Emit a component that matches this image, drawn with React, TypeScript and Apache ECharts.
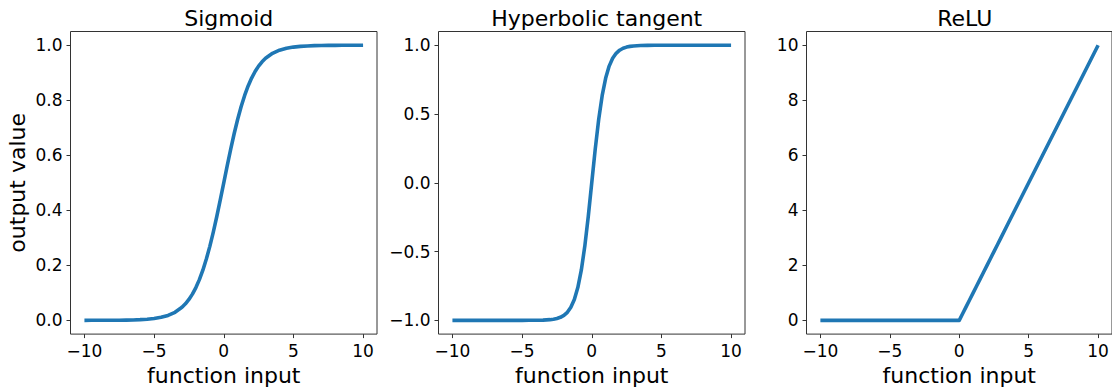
import React, { useEffect, useRef } from "react";
import * as echarts from "echarts";

const panelTitles = ["Sigmoid", "Hyperbolic tangent", "ReLU"];
const xLabel = "function input";
const yLabel = "output value";

const functionInput = [
  -10, -9.5, -9, -8.5, -8, -7.5, -7, -6.5, -6, -5.5, -5, -4.5, -4, -3.5,
  -3, -2.75, -2.5, -2.25, -2, -1.75, -1.5, -1.25, -1, -0.75, -0.5, -0.25,
  0, 0.25, 0.5, 0.75, 1, 1.25, 1.5, 1.75, 2, 2.25, 2.5, 2.75, 3,
  3.5, 4, 4.5, 5, 5.5, 6, 6.5, 7, 7.5, 8, 8.5, 9, 9.5, 10,
];

const sigmoidValues = [
  0.0, 0.0001, 0.0001, 0.0002, 0.0003, 0.0006, 0.0009, 0.0015, 0.0025, 0.0041, 0.0067, 0.011, 0.018, 0.0293,
  0.0474, 0.0601, 0.0759, 0.0953, 0.1192, 0.148, 0.1824, 0.2227, 0.2689, 0.3208, 0.3775, 0.4378,
  0.5, 0.5622, 0.6225, 0.6792, 0.7311, 0.7773, 0.8176, 0.852, 0.8808, 0.9047, 0.9241, 0.9399, 0.9526,
  0.9707, 0.982, 0.989, 0.9933, 0.9959, 0.9975, 0.9985, 0.9991, 0.9994, 0.9997, 0.9998, 0.9999, 0.9999, 1.0,
];

const tanhValues = [
  -1.0, -1.0, -1.0, -1.0, -1.0, -1.0, -1.0, -1.0, -1.0, -1.0, -0.9999, -0.9998, -0.9993, -0.9982,
  -0.9951, -0.9918, -0.9866, -0.978, -0.964, -0.9414, -0.9051, -0.8483, -0.7616, -0.6351, -0.4621, -0.2449,
  0.0, 0.2449, 0.4621, 0.6351, 0.7616, 0.8483, 0.9051, 0.9414, 0.964, 0.978, 0.9866, 0.9918, 0.9951,
  0.9982, 0.9993, 0.9998, 0.9999, 1.0, 1.0, 1.0, 1.0, 1.0, 1.0, 1.0, 1.0, 1.0, 1.0,
];

const reluValues = [
  0, 0, 0, 0, 0, 0, 0, 0, 0, 0, 0, 0, 0, 0,
  0, 0, 0, 0, 0, 0, 0, 0, 0, 0, 0, 0,
  0, 0.25, 0.5, 0.75, 1, 1.25, 1.5, 1.75, 2, 2.25, 2.5, 2.75, 3,
  3.5, 4, 4.5, 5, 5.5, 6, 6.5, 7, 7.5, 8, 8.5, 9, 9.5, 10,
];

const xTicks = [-10, -5, 0, 5, 10];
const sigmoidTicks = [0, 0.2, 0.4, 0.6, 0.8, 1.0];
const tanhTicks = [-1, -0.5, 0, 0.5, 1];
const reluTicks = [0, 2, 4, 6, 8, 10];

const seriesValues = [sigmoidValues, tanhValues, reluValues];
const yTickSets = [sigmoidTicks, tanhTicks, reluTicks];
const yRanges = [
  [-0.05, 1.05],
  [-1.1, 1.1],
  [-0.5, 10.5],
];
const yDecimals = [1, 1, 0];

const FONT = "DejaVu Sans";
const LINE_COLOR = "#1f77b4";
const AXIS_COLOR = "#333333";

const fmt = (v: number, d: number) => {
  const s = Math.abs(v).toFixed(d);
  return v < 0 ? "\u2212" + s : s;
};

export default function App() {
  const ref = useRef<HTMLDivElement>(null);

  useEffect(() => {
    if (!ref.current) return;
    const chart = echarts.init(ref.current, undefined, { renderer: "svg" });

    const lefts = [70.5, 438.5, 806.5];
    const gridW = 306.5;
    const gridTop = 31.5;
    const gridH = 303.8;

    const grids = lefts.map((l) => ({
      left: l,
      top: gridTop,
      width: gridW,
      height: gridH,
      show: true,
      borderColor: AXIS_COLOR,
      borderWidth: 1,
      backgroundColor: "transparent",
      containLabel: false,
    }));

    const xAxes = lefts.map((_, i) => ({
      type: "value",
      gridIndex: i,
      position: "bottom",
      min: -11,
      max: 11,
      name: xLabel,
      nameLocation: "middle",
      nameGap: 27,
      nameTextStyle: { fontFamily: FONT, fontSize: 22, color: "#000" },
      axisLine: { show: false, onZero: false },
      axisTick: {
        show: true,
        length: 4,
        inside: false,
        customValues: xTicks,
        lineStyle: { color: AXIS_COLOR, width: 1 },
      },
      axisLabel: {
        show: true,
        customValues: xTicks,
        margin: 8,
        fontFamily: FONT,
        fontSize: 17,
        color: "#000",
        formatter: (v: number) => fmt(v, 0),
      },
      splitLine: { show: false },
    }));

    const yAxes = lefts.map((_, i) => ({
      type: "value",
      gridIndex: i,
      position: "left",
      min: yRanges[i][0],
      max: yRanges[i][1],
      name: i === 0 ? yLabel : "",
      nameLocation: "middle",
      nameRotate: 90,
      nameGap: 42,
      nameTextStyle: { fontFamily: FONT, fontSize: 22, color: "#000" },
      axisLine: { show: false, onZero: false },
      axisTick: {
        show: true,
        length: 4,
        inside: false,
        customValues: yTickSets[i],
        lineStyle: { color: AXIS_COLOR, width: 1 },
      },
      axisLabel: {
        show: true,
        customValues: yTickSets[i],
        margin: 8,
        fontFamily: FONT,
        fontSize: 17,
        color: "#000",
        formatter: (v: number) => fmt(v, yDecimals[i]),
      },
      splitLine: { show: false },
    }));

    const series = seriesValues.map((vals, i) => ({
      type: "line",
      xAxisIndex: i,
      yAxisIndex: i,
      data: functionInput.map((x, k) => [x, vals[k]]),
      showSymbol: false,
      symbol: "none",
      lineStyle: { color: LINE_COLOR, width: 3.6, cap: "butt", join: "round" },
      itemStyle: { color: LINE_COLOR },
      z: 3,
    }));

    const titles = panelTitles.map((t, i) => ({
      text: t,
      left: lefts[i] + gridW / 2,
      top: 2,
      textAlign: "center",
      textStyle: { fontFamily: FONT, fontSize: 22, fontWeight: "normal", color: "#000" },
    }));

    chart.setOption({
      animation: false,
      backgroundColor: "#ffffff",
      title: titles,
      grid: grids,
      xAxis: xAxes,
      yAxis: yAxes,
      series,
    });

    return () => chart.dispose();
  }, []);

  return (
    <div
      ref={ref}
      style={{ position: "absolute", left: 0, top: 0, width: 1112, height: 391 }}
    />
  );
}
